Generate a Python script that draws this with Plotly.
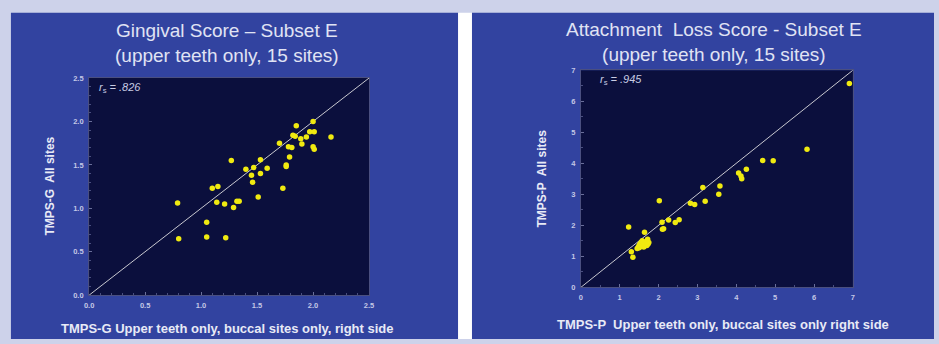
import plotly.graph_objects as go

# ---- data ----
g_x = [0.79,0.80,1.05,1.05,1.22,1.10,1.15,1.14,1.21,1.27,1.29,1.32,1.34,1.40,1.45,
       1.47,1.46,1.53,1.53,1.51,1.59,1.70,1.73,1.76,1.76,1.79,1.78,1.81,1.82,1.84,
       1.85,1.89,1.90,1.94,1.97,2.01,2.00,2.00,2.01,2.16]
g_y = [1.06,0.65,0.84,0.67,0.66,1.23,1.25,1.07,1.05,1.55,1.01,1.08,1.08,1.45,1.38,
       1.47,1.30,1.56,1.40,1.13,1.46,1.75,1.23,1.48,1.50,1.59,1.71,1.70,1.84,1.83,
       1.95,1.80,1.74,1.82,1.88,1.88,2.00,1.71,1.68,1.82]

a_x = [1.23,1.30,1.34,1.64,2.02,2.09,2.10,2.13,2.26,2.43,2.53,2.82,2.93,3.14,3.20,
       3.55,3.58,4.06,4.12,4.14,4.26,4.68,4.95,5.82,6.91,
       1.45,1.48,1.50,1.52,1.55,1.58,1.60,1.62,1.65,1.68,1.70,1.72,1.75,1.50,1.55,1.60,1.73]
a_y = [1.95,1.15,0.97,1.78,2.79,2.10,1.87,1.89,2.17,2.09,2.18,2.71,2.67,3.22,2.78,
       3.00,3.27,3.69,3.59,3.50,3.81,4.09,4.08,4.45,6.57,
       1.25,1.30,1.35,1.40,1.45,1.50,1.38,1.30,1.42,1.48,1.35,1.55,1.45,1.28,1.32,1.45,1.40]

g_range = [0, 2.5]
a_range = [0, 7]
g_ticks = [0, 0.5, 1.0, 1.5, 2.0, 2.5]
a_ticks = [0, 1, 2, 3, 4, 5, 6, 7]

titles = ["Gingival Score – Subset E<br>(upper teeth only, 15 sites)",
          "Attachment  Loss Score - Subset E<br>(upper teeth only, 15 sites)"]
xlabels = ["TMPS-G Upper teeth only, buccal sites only, right side",
           "TMPS-P  Upper teeth only, buccal sites only right side"]
ylabels = ["TMPS-G  All sites", "TMPS-P  All sites"]
rs_text = ["<i>r</i><sub>s</sub><i> = .826</i>", "<i>r</i><sub>s</sub><i> = .945</i>"]

W, H = 939, 344
FONT = "Liberation Sans, Arial, sans-serif"
PANEL = "#3243a0"
PLOTBG = "#0b0f3d"
YEL = "#f0ea10"

def px(x): return x / W
def py(y): return 1 - y / H

fig = go.Figure()

# panels
shapes = [
    dict(type="rect", xref="paper", yref="paper", x0=px(6), x1=px(458), y0=0, y1=py(9),
         fillcolor=PANEL, line=dict(width=0), layer="below"),
    dict(type="rect", xref="paper", yref="paper", x0=px(458), x1=px(472), y0=0, y1=py(9),
         fillcolor="#ffffff", line=dict(width=0), layer="below"),
    dict(type="rect", xref="paper", yref="paper", x0=px(472), x1=1, y0=0, y1=py(9),
         fillcolor=PANEL, line=dict(width=0), layer="below"),
]

# plot-area rectangles (pixel boxes)
boxes = [(85, 368, 76, 299), (582, 857, 68, 291)]
for (x0, x1, y0, y1) in boxes:
    shapes.append(dict(type="rect", xref="paper", yref="paper", x0=px(x0), x1=px(x1),
                       y0=py(y1), y1=py(y0), fillcolor=PLOTBG, line=dict(width=0), layer="below"))

# traces
fig.add_trace(go.Scatter(x=g_range, y=g_range, mode="lines", line=dict(color="#c8c8d0", width=1),
                         xaxis="x", yaxis="y", hoverinfo="skip"))
fig.add_trace(go.Scatter(x=g_x, y=g_y, mode="markers", marker=dict(color=YEL, size=5.5),
                         xaxis="x", yaxis="y"))
fig.add_trace(go.Scatter(x=a_range, y=a_range, mode="lines", line=dict(color="#c8c8d0", width=1),
                         xaxis="x2", yaxis="y2", hoverinfo="skip"))
fig.add_trace(go.Scatter(x=a_x, y=a_y, mode="markers", marker=dict(color=YEL, size=5.5),
                         xaxis="x2", yaxis="y2"))

tickfont = dict(family=FONT, size=7.5, color="#c4c8e6", weight="bold")
def axis(dom, rng, ticks, fmt, minor, anchor):
    return dict(domain=dom, range=rng, tickvals=ticks, tickformat=fmt, showgrid=False, zeroline=False,
                showline=True, mirror=True, linecolor="#4a4f80", linewidth=1,
                ticks="inside", ticklen=3, tickcolor="#6a6f9a", tickfont=tickfont,
                minor=dict(dtick=minor, ticks="inside", ticklen=2, tickcolor="#4a4f80"),
                anchor=anchor, fixedrange=True, ticklabelstandoff=3)

(lx0, lx1, ly0, ly1), (rx0, rx1, ry0, ry1) = boxes
fig.update_layout(
    xaxis=axis([px(lx0), px(lx1)], g_range, g_ticks, ".1f", 0.1, "y"),
    yaxis=axis([py(ly1), py(ly0)], g_range, g_ticks, ".1f", 0.1, "x"),
    xaxis2=axis([px(rx0), px(rx1)], a_range, a_ticks, "d", 0.5, "y2"),
    yaxis2=axis([py(ry1), py(ry0)], a_range, a_ticks, "d", 0.5, "x2"),
)

ann = []
title_font = dict(family=FONT, size=19, color="#e0e3f4")
xlabel_font = dict(family=FONT, size=13, color="#e8eaf6")
ylabel_font = dict(family=FONT, size=12, color="#e8eaf6")
C = dict(xref="paper", yref="paper", showarrow=False, xanchor="center", yanchor="middle")
ann.append(dict(text=titles[0], x=px(224), y=py(40), font=title_font, align="center", **C))
ann.append(dict(text=titles[1], x=px(717), y=py(39), font=title_font, align="center", **C))
ann.append(dict(text="<b>"+xlabels[0]+"</b>", x=px(225), y=py(333), font=xlabel_font, **C))
ann.append(dict(text="<b>"+xlabels[1]+"</b>", x=px(726), y=py(329), font=xlabel_font, **C))
ann.append(dict(text="<b>"+ylabels[0]+"</b>", x=px(46), y=py(187), font=ylabel_font, textangle=-90, **C))
ann.append(dict(text="<b>"+ylabels[1]+"</b>", x=px(543), y=py(179), font=ylabel_font, textangle=-90, **C))
rs_font = dict(family=FONT, size=11, color="#c8cce4")
L = dict(xref="paper", yref="paper", showarrow=False, xanchor="left", yanchor="middle")
ann.append(dict(text=rs_text[0], x=px(93), y=py(86), font=rs_font, **L))
ann.append(dict(text=rs_text[1], x=px(599), y=py(78), font=rs_font, **L))

fig.update_layout(width=W, height=H, margin=dict(l=0, r=0, t=0, b=0),
                  paper_bgcolor="#cdd2ea", plot_bgcolor="rgba(0,0,0,0)",
                  showlegend=False, shapes=shapes, annotations=ann)

fig.write_html("out.html", config={"displayModeBar": False},
               post_script="document.body.style.margin='0';document.body.style.overflow='hidden';")
